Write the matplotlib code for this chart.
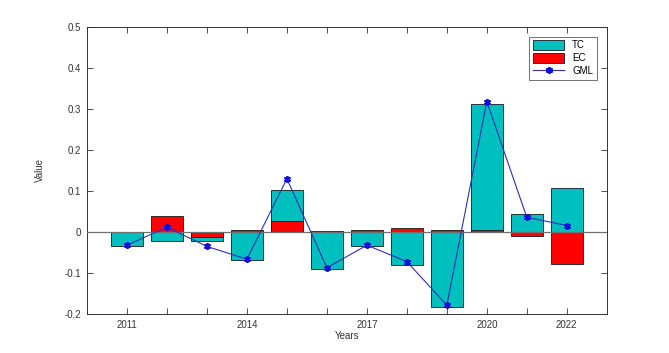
import numpy as np
import matplotlib
matplotlib.use('Agg')
import matplotlib.pyplot as plt

years = [2011, 2012, 2013, 2014, 2015, 2016, 2017, 2018, 2019, 2020, 2021, 2022]
tc = [-0.033, -0.021, -0.022, -0.069, 0.102, -0.089, -0.035, -0.081, -0.183, 0.312, 0.043, 0.107]
ec = [0.001, 0.039, -0.011, 0.004, 0.026, 0.002, 0.005, 0.009, 0.005, 0.006, -0.009, -0.077]
gml = [-0.032, 0.012, -0.035, -0.066, 0.130, -0.087, -0.032, -0.072, -0.178, 0.318, 0.036, 0.016]
labeled_years = [2011, 2014, 2017, 2020, 2022]

plt.rcParams['font.family'] = ['Liberation Sans', 'DejaVu Sans']

fig = plt.figure(figsize=(6.69, 3.53), dpi=100)
ax = fig.add_axes([0.130, 0.110, 0.777, 0.814])

b1 = ax.bar(years, tc, width=0.8, color='#00BFBF', edgecolor='#1a1a1a', linewidth=0.6, label='TC', zorder=2)
b2 = ax.bar(years, ec, width=0.8, color='#FF0000', edgecolor='#1a1a1a', linewidth=0.6, label='EC', zorder=3)
ax.axhline(0, color='#707070', linewidth=0.9, zorder=4)
# asterisk marker, like MATLAB '*'
l1, = ax.plot(years, gml, color='#3030B0', linewidth=0.8, marker=(6, 2, 0), markersize=5,
              markeredgewidth=1.3, markeredgecolor='#1010E0', label='GML', zorder=5)

ax.set_xlim(2010, 2023)
ax.set_ylim(-0.2, 0.5)
ax.set_xticks(years)
ax.set_xticklabels([str(y) if y in labeled_years else '' for y in years])
ax.set_yticks(np.arange(-0.2, 0.51, 0.1))
ax.set_yticklabels(['-0.2', '-0.1', '0', '0.1', '0.2', '0.3', '0.4', '0.5'])
ax.tick_params(direction='in', top=True, right=True, length=4, width=0.6,
               labelsize=7, colors='#333333', pad=4)
for sp in ax.spines.values():
    sp.set_linewidth(0.7)
    sp.set_color('#333333')

ax.set_xlabel('Years', fontsize=7, color='#333333', labelpad=1)
ax.set_ylabel('Value', fontsize=7, color='#333333', labelpad=14)

leg = ax.legend([b1, b2, l1], ['TC', 'EC', 'GML'], loc='upper right', fontsize=7,
                frameon=True, fancybox=False, edgecolor='#333333', borderpad=0.4,
                handlelength=3.2, handleheight=1.1, labelspacing=0.3, borderaxespad=1.0)
leg.get_frame().set_linewidth(0.6)

plt.savefig('out.png', dpi=100)
plt.close()
